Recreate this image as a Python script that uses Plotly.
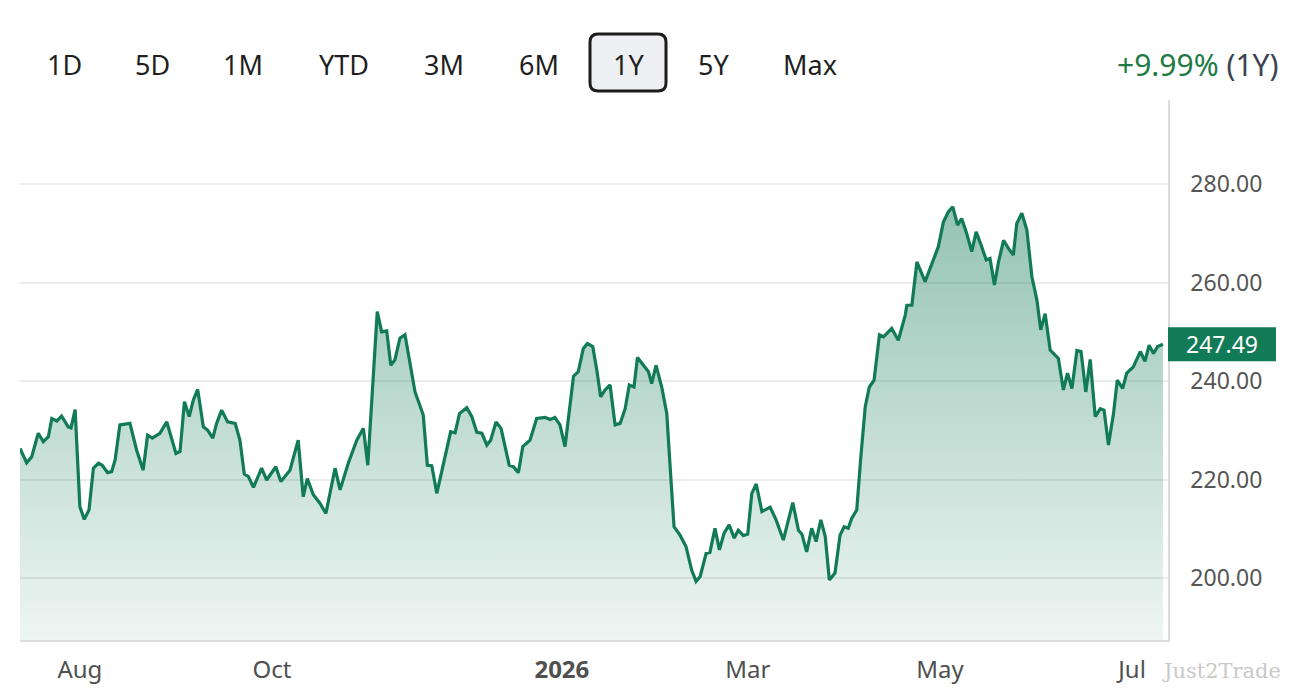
import pandas as pd
import plotly.graph_objects as go

# days since 2025-07-13 and closing price
start = "2025-07-13"
days = [0.0, 2.1, 3.7, 5.8, 7.4, 9.0, 10.1, 11.7, 13.2, 15.3, 16.2, 17.5, 19.0, 20.4, 21.9,
        23.3, 24.9, 26.1, 27.8, 29.1, 30.2, 31.7, 34.9, 37.0, 39.1, 40.5, 42.0, 44.4, 46.6,
        48.2, 49.5, 50.8, 52.2, 53.7, 55.0, 56.4, 58.2, 59.6, 61.2, 62.4, 64.0, 65.9, 68.3,
        69.8, 71.2, 72.5, 74.1, 76.7, 78.3, 81.2, 82.8, 85.7, 88.3, 89.9, 91.2, 93.1, 95.2,
        97.1, 100.0, 101.6, 104.2, 106.9, 109.0, 110.4, 113.4, 114.8, 116.4, 117.7, 119.0,
        120.6, 122.2, 125.4, 128.0, 129.3, 130.7, 132.3, 135.5, 136.7, 138.1, 139.5, 141.8,
        143.4, 145.0, 146.6, 148.2, 149.4, 151.1, 152.7, 155.3, 156.6, 158.2, 159.6, 161.9,
        164.0, 166.7, 168.3, 169.8, 171.4, 173.0, 175.7, 177.2, 178.8, 180.1, 181.8, 183.1,
        184.3, 185.7, 187.3, 188.9, 190.5, 192.1, 193.4, 194.9, 196.0, 197.9, 199.5, 200.5,
        201.9, 203.7, 205.3, 206.3, 207.6, 209.5, 211.4, 213.2, 214.6, 215.9, 217.8, 219.0,
        220.6, 222.0, 223.5, 225.1, 226.7, 228.0, 229.6, 231.0, 232.3, 233.7, 235.5, 238.1,
        240.0, 242.3, 245.3, 247.1, 248.2, 249.7, 251.3, 252.7, 254.2, 255.6, 256.9, 258.7,
        260.3, 261.6, 262.9, 264.0, 265.6, 266.9, 268.3, 269.6, 271.1, 272.8, 274.1, 276.7,
        278.8, 281.0, 281.5, 283.1, 284.7, 287.3, 289.9, 291.5, 293.1, 294.7, 296.1, 297.6,
        298.9, 300.5, 302.1, 303.5, 305.1, 306.7, 307.9, 309.3, 310.6, 312.2, 313.8, 315.3,
        316.4, 318.0, 319.6, 321.2, 322.8, 324.0, 325.4, 327.0, 329.6, 331.2, 332.5, 333.9,
        335.5, 336.8, 338.3, 339.7, 341.3, 342.9, 344.1, 345.5, 347.1, 348.3, 350.0, 351.3,
        353.4, 355.6, 357.1, 358.4, 359.8, 361.1, 362.8]
close = [226.3, 223.4, 224.6, 229.4, 227.7, 228.7, 232.4, 231.9, 232.9, 230.7, 230.5, 234.2,
         214.5, 211.9, 213.8, 222.3, 223.3, 222.9, 221.4, 221.6, 224.0, 231.1, 231.4, 226.0,
         221.9, 229.0, 228.4, 229.4, 231.7, 228.0, 225.3, 225.7, 235.8, 232.8, 236.1, 238.3,
         230.7, 230.0, 228.4, 231.4, 234.1, 231.7, 231.4, 228.0, 221.1, 220.6, 218.4, 222.3,
         219.9, 222.6, 219.6, 221.9, 228.0, 216.5, 220.2, 216.9, 215.2, 213.1, 222.3, 217.9,
         223.3, 228.0, 230.4, 222.9, 254.1, 250.0, 250.2, 243.2, 244.3, 248.7, 249.4, 237.8,
         233.1, 222.9, 222.8, 217.2, 226.7, 229.7, 229.5, 233.4, 234.6, 232.8, 229.6, 229.4,
         227.0, 228.0, 231.7, 230.4, 222.9, 222.6, 221.4, 226.7, 228.0, 232.4, 232.6, 232.2,
         232.6, 231.1, 226.7, 241.0, 241.9, 246.6, 247.6, 247.0, 242.2, 236.8, 238.2, 239.2,
         231.1, 231.4, 234.4, 239.2, 238.8, 244.8, 243.2, 241.9, 239.5, 243.2, 238.8, 233.4,
         223.3, 210.4, 208.7, 206.4, 201.6, 199.3, 200.3, 205.0, 205.2, 210.1, 205.7, 209.1,
         210.8, 208.1, 209.7, 208.6, 208.9, 217.2, 219.1, 213.5, 214.4, 211.8, 207.7, 215.3,
         209.7, 208.9, 205.3, 210.1, 207.4, 211.8, 208.4, 199.6, 201.0, 208.7, 210.4, 210.1,
         212.1, 213.8, 224.6, 234.8, 238.8, 240.2, 249.4, 249.0, 250.7, 248.3, 253.4, 255.4,
         255.4, 264.2, 260.2, 264.6, 267.3, 272.3, 274.4, 275.4, 271.7, 273.0, 270.0, 266.3,
         270.3, 267.6, 264.6, 264.9, 259.5, 264.2, 268.6, 266.9, 265.6, 272.0, 274.1, 270.7,
         261.2, 256.4, 250.4, 253.7, 246.3, 244.6, 238.2, 241.6, 238.5, 246.2, 246.0, 237.8,
         244.4, 232.8, 234.4, 234.1, 227.0, 233.4, 240.2, 238.5, 241.6, 242.9, 246.0, 244.0,
         247.3, 245.6, 247.0, 247.49]

y_ticks = [200, 220, 240, 260, 280]
x_ticks = ["2025-08-01", "2025-10-01", "2026-01-01", "2026-03-01", "2026-05-01", "2026-07-01"]
x_labels = ["Aug", "Oct", "<b>2026</b>", "Mar", "May", "Jul"]
periods = ["1D", "5D", "1M", "YTD", "3M", "6M", "1Y", "5Y", "Max"]
period_x = [64, 152, 243, 344, 444, 539, 628, 713, 810]
selected = "1Y"
change_text = "+9.99%"

dates = pd.to_datetime(start) + pd.to_timedelta(days, unit="D")
last = close[-1]

GREEN = "#117a56"
OFF = 8  # page margin of the html body
L, R, T, B = 20 - OFF, 1168 - OFF, 100 - OFF, 640 - OFF
Y0, Y1 = 187.4, 297.1


def px(x):
    return (x - OFF - L) / (R - L)


def py(y):
    return (B - (y - OFF)) / (B - T)


fig = go.Figure()
fig.add_trace(go.Scatter(
    x=dates, y=close, mode="lines",
    line=dict(color=GREEN, width=3.2),
    fill="tozeroy",
    fillgradient=dict(type="vertical", start=187, stop=276,
                      colorscale=[[0, "rgba(17,122,86,0.07)"], [1, "rgba(17,122,86,0.45)"]]),
    hoverinfo="x+y",
))

font = "Noto Sans, Open Sans, sans-serif"
annotations = []
for name, xp in zip(periods, period_x):
    annotations.append(dict(
        xref="paper", yref="paper", x=px(xp), y=py(65), text=name, showarrow=False,
        xanchor="center", yanchor="middle", font=dict(family=font, size=27, color="#1f1f1f")))
annotations.append(dict(
    xref="paper", yref="paper", x=px(1281), y=py(65), showarrow=False,
    xanchor="right", yanchor="middle",
    text=f"<span style='color:#1e7b46'>{change_text}</span> ({selected})",
    font=dict(family=font, size=30, color="#3d4450")))

# current price tag on the right axis
unit = (Y1 - Y0) / (B - T)
tag_w, tag_h = 108, 34
annotations.append(dict(
    xref="paper", yref="y", x=1 + (tag_w / 2) / (R - L), y=last, xanchor="center",
    yanchor="middle", showarrow=False, text=f"{last:.2f}",
    font=dict(family=font, size=23, color="white")))
annotations.append(dict(
    xref="paper", yref="paper", x=px(1283), y=py(671), showarrow=False,
    xanchor="right", yanchor="middle", text="Just2Trade",
    font=dict(family="DejaVu Serif", size=21, color="#c9c9c9")))

# rounded box around the selected period
i = periods.index(selected)
x0, x1, y0, y1, r = period_x[i] - 38, period_x[i] + 38, 34, 91, 8
box = (f"M {px(x0 + r)} {py(y0)} L {px(x1 - r)} {py(y0)} Q {px(x1)} {py(y0)} {px(x1)} {py(y0 + r)} "
       f"L {px(x1)} {py(y1 - r)} Q {px(x1)} {py(y1)} {px(x1 - r)} {py(y1)} "
       f"L {px(x0 + r)} {py(y1)} Q {px(x0)} {py(y1)} {px(x0)} {py(y1 - r)} "
       f"L {px(x0)} {py(y0 + r)} Q {px(x0)} {py(y0)} {px(x0 + r)} {py(y0)} Z")

shapes = [
    dict(type="path", xref="paper", yref="paper", path=box,
         line=dict(color="#1c1c1c", width=3), fillcolor="#eeeff2", layer="below"),
    dict(type="rect", xref="paper", yref="y", x0=1, x1=1 + tag_w / (R - L),
         y0=last - tag_h / 2 * unit, y1=last + tag_h / 2 * unit,
         fillcolor=GREEN, line=dict(width=0), layer="above"),
]

fig.update_layout(
    width=1304, height=700,
    margin=dict(l=L, r=1304 - R, t=T, b=700 - B),
    plot_bgcolor="white", paper_bgcolor="white",
    showlegend=False,
    annotations=annotations,
    shapes=shapes,
    xaxis=dict(
        range=[pd.Timestamp(start), pd.Timestamp(start) + pd.Timedelta(days=364.4)],
        tickvals=x_ticks, ticktext=x_labels, showgrid=False, showline=True,
        linecolor="#dcdcdc", linewidth=1.5, ticks="", ticklabelstandoff=7,
        tickfont=dict(family=font, size=24, color="#505050"),
    ),
    yaxis=dict(
        side="right", range=[Y0, Y1], tickvals=y_ticks,
        ticktext=[f"{v:.2f}" for v in y_ticks], showgrid=True, gridcolor="#ececec",
        gridwidth=1.5, showline=True, linecolor="#dcdcdc", linewidth=1.5, zeroline=False,
        ticks="", ticklabelstandoff=16,
        tickfont=dict(family=font, size=23, color="#555555"),
    ),
)

fig.write_html("out.html")
